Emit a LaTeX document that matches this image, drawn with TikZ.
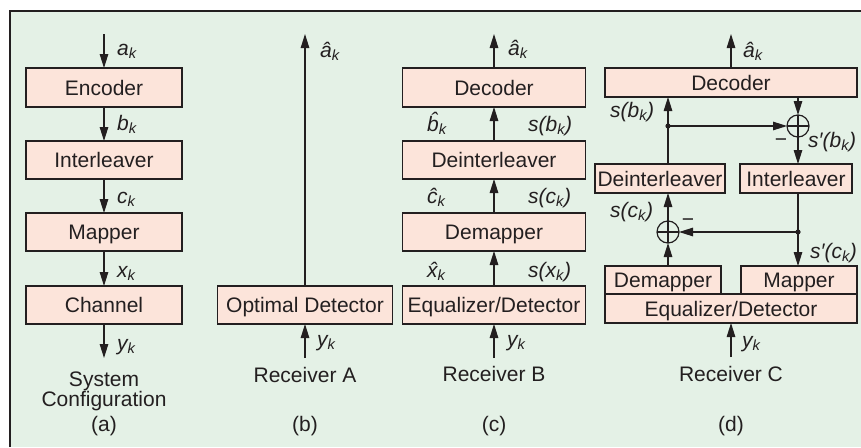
\documentclass[tikz,border=0pt]{standalone}
\usepackage{fontspec}
\setmainfont{Liberation Sans}
\usetikzlibrary{arrows.meta}
\definecolor{bgc}{RGB}{228,241,230}
\definecolor{boxc}{RGB}{252,228,218}
\definecolor{lnc}{RGB}{35,31,32}
\newcommand\sbk[1]{\textsubscript{\itshape #1}}
\begin{document}
\begin{tikzpicture}[x=1pt,y=-1pt,
 txt/.style={font=\fontsize{21}{25}\selectfont, text=lnc},
 blk/.style={txt, draw=lnc, fill=boxc, line width=1.3pt, inner sep=0pt, outer sep=0pt, text height=15pt, text depth=0pt},
 arr/.style={draw=lnc, line width=1.2pt, -{Triangle[length=14pt,width=8.5pt]}},
 lbl/.style={font=\fontsize{21}{25}\selectfont\itshape, text=lnc, inner sep=0pt, anchor=base west},
 capt/.style={txt, inner sep=0pt, anchor=base},
 sumc/.style={circle, draw=lnc, line width=1.2pt, minimum size=22pt, inner sep=0pt, outer sep=0pt},
]
\useasboundingbox (0,0) rectangle (861,447);
\fill[bgc] (10,11) rectangle (861,447);
\draw[lnc, line width=1.3pt] (10,447) -- (10,11) -- (861,11);

% ---------- (a)
\node[blk, minimum width=156pt, minimum height=39pt] (enc) at (104,87.5) {Encoder};
\node[blk, minimum width=156pt, minimum height=38pt] (intl) at (104,160) {Interleaver};
\node[blk, minimum width=156pt, minimum height=38pt] (mapa) at (104,232) {Mapper};
\node[blk, minimum width=156pt, minimum height=38pt] (chan) at (104,305) {Channel};
\coordinate (ain) at (104,34);
\coordinate (aout) at (104,358);
\draw[arr] (ain) -- (enc.north);
\draw[arr] (enc) -- (intl);
\draw[arr] (intl) -- (mapa);
\draw[arr] (mapa) -- (chan);
\draw[arr] (chan.south) -- (aout);
\node[lbl] (la1) at (117,55) {a\sbk{k}};
\node[lbl] (la2) at (117,130) {b\sbk{k}};
\node[lbl] (la3) at (117,203) {c\sbk{k}};
\node[lbl] (la4) at (117,277) {x\sbk{k}};
\node[lbl] (la5) at (117,350) {y\sbk{k}};
\node[capt] (sys) at (104,386) {System};
\node[capt] (conf) at (104,406) {Configuration};
\node[capt] (capa) at (104,431) {(a)};

% ---------- (b)
\node[blk, minimum width=175pt, minimum height=38pt] (opt) at (305,305) {Optimal Detector};
\coordinate (bout) at (305,34);
\coordinate (bin) at (305,358);
\draw[arr] (opt.north) -- (bout);
\draw[arr] (bin) -- (opt.south);
\node[lbl] (lb1) at (320,57) {\^{a}\sbk{k}};
\node[lbl] (lb2) at (317,346) {y\sbk{k}};
\node[capt] (reca) at (305,382) {Receiver A};
\node[capt] (capb) at (305,431) {(b)};

% ---------- (c)
\node[blk, minimum width=183pt, minimum height=39pt] (dec) at (494,87.5) {Decoder};
\node[blk, minimum width=183pt, minimum height=38pt] (dint) at (494,160) {Deinterleaver};
\node[blk, minimum width=183pt, minimum height=38pt] (demap) at (494,232) {Demapper};
\node[blk, minimum width=183pt, minimum height=38pt] (eqd) at (494,305) {Equalizer/Detector};
\coordinate (cout) at (494,34);
\coordinate (cin) at (494,358);
\draw[arr] (cin) -- (eqd.south);
\draw[arr] (eqd) -- (demap);
\draw[arr] (demap) -- (dint);
\draw[arr] (dint) -- (dec);
\draw[arr] (dec.north) -- (cout);
\node[lbl] (lc1) at (508,55) {\^{a}\sbk{k}};
\node[lbl] (lc2) at (427,131) {\^{b}\sbk{k}};
\node[lbl] (lc3) at (528,131) {s(b\sbk{k})};
\node[lbl] (lc4) at (427,203) {\^{c}\sbk{k}};
\node[lbl] (lc5) at (528,203) {s(c\sbk{k})};
\node[lbl] (lc6) at (427,277) {\^{x}\sbk{k}};
\node[lbl] (lc7) at (528,277) {s(x\sbk{k})};
\node[lbl] (lc8) at (507,346) {y\sbk{k}};
\node[capt] (recb) at (494,381) {Receiver B};
\node[capt] (capc) at (494,431) {(c)};

% ---------- (d)
\node[blk, minimum width=252pt, minimum height=29pt] (dec4) at (731,82.5) {Decoder};
\node[blk, minimum width=130pt, minimum height=29pt] (dint4) at (660,178.5) {Deinterleaver};
\node[blk, minimum width=112pt, minimum height=29pt] (il4) at (796,178.5) {Interleaver};
\node[blk, minimum width=252pt, minimum height=29pt] (eq4) at (731,308.5) {Equalizer/Detector};
\node[blk, minimum width=116pt, minimum height=28pt] (dem4) at (663,280) {Demapper};
\node[blk, minimum width=116pt, minimum height=28pt] (map4) at (799,280) {Mapper};
\node[sumc] (sum1) at (798,126) {};
\node[sumc] (sum2) at (668,232) {};
\draw[lnc, line width=1.2pt] (sum1.north) -- (sum1.south) (sum1.west) -- (sum1.east);
\draw[lnc, line width=1.2pt] (sum2.north) -- (sum2.south) (sum2.west) -- (sum2.east);
\coordinate (j1) at (668,126);
\coordinate (j2) at (798,232);
\coordinate (dout) at (731,34);
\coordinate (din) at (731,357);
\draw[arr] (dec4.north) -- (dout);
\draw[arr] (din) -- (eq4.south);
\draw[arr] (j1 |- dint4.north) -- (j1 |- dec4.south);
\draw[arr] (j1) -- (sum1.west);
\draw[arr] (sum1 |- dec4.south) -- (sum1.north);
\draw[arr] (sum1.south) -- (sum1 |- il4.north);
\draw[arr] (sum1 |- il4.south) -- (sum1 |- map4.north);
\draw[arr] (j2) -- (sum2.east);
\draw[arr] (sum2.north) -- (sum2 |- dint4.south);
\draw[arr] (sum2 |- dem4.north) -- (sum2.south);
\fill[lnc] (j1) circle (2.6pt);
\fill[lnc] (j2) circle (2.6pt);
\node[txt, inner sep=0pt] (m1) at (781,143) {−};
\node[txt, inner sep=0pt] (m2) at (688,223) {−};
\node[lbl] (ld1) at (743,57) {\^{a}\sbk{k}};
\node[lbl] (ld2) at (610,117) {s(b\sbk{k})};
\node[lbl] (ld3) at (808,147) {s′(b\sbk{k})};
\node[lbl] (ld4) at (610,217) {s(c\sbk{k})};
\node[lbl] (ld5) at (810,258) {s′(c\sbk{k})};
\node[lbl] (ld6) at (742,347) {y\sbk{k}};
\node[capt] (recc) at (731,381) {Receiver C};
\node[capt] (capd) at (731,431) {(d)};
\end{tikzpicture}
\end{document}
